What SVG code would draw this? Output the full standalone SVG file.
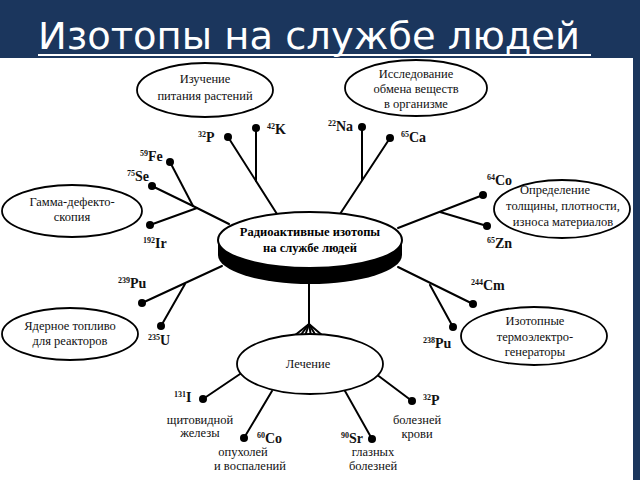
<svg xmlns="http://www.w3.org/2000/svg" width="640" height="480" viewBox="0 0 640 480">
<style>
.bg{fill:#1b365d}
.node ellipse{fill:#fff;stroke:#000;stroke-width:1.8}
.nt{font-family:"Liberation Serif","Times New Roman",serif;font-size:12.5px;fill:#111;text-anchor:middle}
.ct{font-family:"Liberation Serif","Times New Roman",serif;font-size:12.5px;font-weight:bold;fill:#000;text-anchor:middle}
.iso{font-family:"Liberation Serif","Times New Roman",serif;font-size:14px;font-weight:bold;fill:#111}
.sup{font-size:8px}
.dot{fill:#000}
#connectors line{stroke:#000;stroke-width:2;stroke-linecap:round}
.title{font-family:"DejaVu Sans","Open Sans",sans-serif;font-size:37px;fill:#fff}
</style>
<rect class="bg" x="0" y="0" width="640" height="480"/>
<rect x="0" y="58" width="633" height="422" fill="#fff"/>
<g id="title">
<text class="title" x="38" y="49" textLength="542" lengthAdjust="spacingAndGlyphs">Изотопы на службе людей</text>
<rect x="38" y="54" width="553" height="2" fill="#fff"/>
</g>
<g id="connectors">
<line x1="228" y1="137" x2="277" y2="214"/>
<line x1="256" y1="128" x2="256" y2="181"/>
<line x1="170" y1="162" x2="193" y2="206"/>
<line x1="152" y1="186" x2="193" y2="206"/>
<line x1="193" y1="206" x2="229" y2="224"/>
<line x1="150" y1="225" x2="197" y2="208"/>
<line x1="142" y1="303" x2="222" y2="266"/>
<line x1="161" y1="326" x2="185" y2="284"/>
<line x1="362" y1="127" x2="362" y2="180"/>
<line x1="390" y1="138" x2="340" y2="214"/>
<line x1="483" y1="195" x2="398" y2="228"/>
<line x1="487" y1="226" x2="440" y2="212"/>
<line x1="398" y1="267" x2="473" y2="304"/>
<line x1="453" y1="327" x2="430" y2="285"/>
<line x1="203" y1="399" x2="243" y2="372"/>
<line x1="244" y1="438" x2="272" y2="391"/>
<line x1="372" y1="439" x2="345" y2="391"/>
<line x1="412" y1="401" x2="376" y2="374"/>
<line x1="309" y1="284" x2="309" y2="324"/>
<line x1="309" y1="324" x2="294" y2="336"/>
<line x1="309" y1="324" x2="300" y2="336"/>
<line x1="309" y1="324" x2="305" y2="336"/>
<line x1="309" y1="324" x2="311" y2="336"/>
<line x1="309" y1="324" x2="316" y2="336"/>
<line x1="309" y1="324" x2="323" y2="336"/>
<line x1="292" y1="335" x2="325" y2="335"/>
</g>
<g id="center">
<ellipse cx="310" cy="255" rx="92" ry="29" fill="#000"/>
<rect x="218" y="240" width="184" height="15" fill="#000"/>
<ellipse cx="310" cy="240" rx="92" ry="28" fill="#fff" stroke="#000" stroke-width="2"/>
<text class="ct" x="310" y="236">Радиоактивные изотопы</text>
<text class="ct" x="310" y="252">на службе людей</text>
</g>
<g id="n-plants" class="node">
<ellipse cx="205" cy="90" rx="68" ry="27"/>
<text class="nt" x="205" y="83">Изучение</text>
<text class="nt" x="205" y="100">питания растений</text>
</g>
<g id="n-metabolism" class="node">
<ellipse cx="416" cy="88" rx="71" ry="28"/>
<text class="nt" x="416" y="78">Исследование</text>
<text class="nt" x="416" y="93">обмена веществ</text>
<text class="nt" x="416" y="108">в организме</text>
</g>
<g id="n-thickness" class="node">
<ellipse cx="562" cy="209" rx="68" ry="29"/>
<text class="nt" x="555" y="194">Определение</text>
<text class="nt" x="563" y="210">толщины, плотности,</text>
<text class="nt" x="563" y="226">износа материалов</text>
</g>
<g id="n-gamma" class="node">
<ellipse cx="72" cy="211" rx="70" ry="26"/>
<text class="nt" x="72" y="206">Гамма-дефекто-</text>
<text class="nt" x="72" y="221">скопия</text>
</g>
<g id="n-fuel" class="node">
<ellipse cx="70" cy="334" rx="68" ry="26"/>
<text class="nt" x="70" y="330">Ядерное топливо</text>
<text class="nt" x="70" y="345">для реакторов</text>
</g>
<g id="n-rtg" class="node">
<ellipse cx="534" cy="336" rx="73" ry="29"/>
<text class="nt" x="535" y="325">Изотопные</text>
<text class="nt" x="535" y="341">термоэлектро-</text>
<text class="nt" x="535" y="356">генераторы</text>
</g>
<g id="n-treatment" class="node">
<ellipse cx="310" cy="364" rx="73" ry="30"/>
<text class="nt" x="308" y="368">Лечение</text>
</g>
<g id="iso-K42"><circle class="dot" cx="256" cy="128" r="4"/><text class="iso" x="267" y="134"><tspan class="sup" dy="-5">42</tspan><tspan dy="5">K</tspan></text></g>
<g id="iso-P32a"><circle class="dot" cx="228" cy="137" r="4"/><text class="iso" x="198" y="142"><tspan class="sup" dy="-5">32</tspan><tspan dy="5">P</tspan></text></g>
<g id="iso-Fe59"><circle class="dot" cx="170" cy="162" r="4"/><text class="iso" x="140" y="161"><tspan class="sup" dy="-5">59</tspan><tspan dy="5">Fe</tspan></text></g>
<g id="iso-Se75"><circle class="dot" cx="152" cy="186" r="4"/><text class="iso" x="127" y="181"><tspan class="sup" dy="-5">75</tspan><tspan dy="5">Se</tspan></text></g>
<g id="iso-Ir192"><circle class="dot" cx="150" cy="225" r="4"/><text class="iso" x="143" y="248"><tspan class="sup" dy="-5">192</tspan><tspan dy="5">Ir</tspan></text></g>
<g id="iso-Pu239"><circle class="dot" cx="142" cy="303" r="4"/><text class="iso" x="118" y="288"><tspan class="sup" dy="-5">239</tspan><tspan dy="5">Pu</tspan></text></g>
<g id="iso-U235"><circle class="dot" cx="161" cy="326" r="4"/><text class="iso" x="148" y="345"><tspan class="sup" dy="-5">235</tspan><tspan dy="5">U</tspan></text></g>
<g id="iso-Na22"><circle class="dot" cx="362" cy="127" r="4"/><text class="iso" x="328" y="131"><tspan class="sup" dy="-5">22</tspan><tspan dy="5">Na</tspan></text></g>
<g id="iso-Ca65"><circle class="dot" cx="390" cy="138" r="4"/><text class="iso" x="401" y="142"><tspan class="sup" dy="-5">65</tspan><tspan dy="5">Ca</tspan></text></g>
<g id="iso-Co64"><circle class="dot" cx="483" cy="195" r="4"/><text class="iso" x="487" y="185"><tspan class="sup" dy="-5">64</tspan><tspan dy="5">Co</tspan></text></g>
<g id="iso-Zn65"><circle class="dot" cx="487" cy="226" r="4"/><text class="iso" x="487" y="248"><tspan class="sup" dy="-5">65</tspan><tspan dy="5">Zn</tspan></text></g>
<g id="iso-Cm244"><circle class="dot" cx="473" cy="304" r="4"/><text class="iso" x="471" y="290"><tspan class="sup" dy="-5">244</tspan><tspan dy="5">Cm</tspan></text></g>
<g id="iso-Pu238"><circle class="dot" cx="453" cy="327" r="4"/><text class="iso" x="423" y="348"><tspan class="sup" dy="-5">238</tspan><tspan dy="5">Pu</tspan></text></g>
<g id="iso-I131"><circle class="dot" cx="203" cy="399" r="4"/><text class="iso" x="174" y="402"><tspan class="sup" dy="-5">131</tspan><tspan dy="5">I</tspan></text>
<text class="nt" x="200" y="424">щитовидной</text><text class="nt" x="200" y="437">железы</text></g>
<g id="iso-Co60"><circle class="dot" cx="244" cy="438" r="4"/><text class="iso" x="257" y="443"><tspan class="sup" dy="-5">60</tspan><tspan dy="5">Co</tspan></text>
<text class="nt" x="243" y="456">опухолей</text><text class="nt" x="250" y="470">и воспалений</text></g>
<g id="iso-Sr90"><circle class="dot" cx="372" cy="439" r="4"/><text class="iso" x="341" y="443"><tspan class="sup" dy="-5">90</tspan><tspan dy="5">Sr</tspan></text>
<text class="nt" x="373" y="456">глазных</text><text class="nt" x="373" y="470">болезней</text></g>
<g id="iso-P32b"><circle class="dot" cx="412" cy="401" r="4"/><text class="iso" x="423" y="405"><tspan class="sup" dy="-5">32</tspan><tspan dy="5">P</tspan></text>
<text class="nt" x="417" y="424">болезней</text><text class="nt" x="417" y="438">крови</text></g>
</svg>
